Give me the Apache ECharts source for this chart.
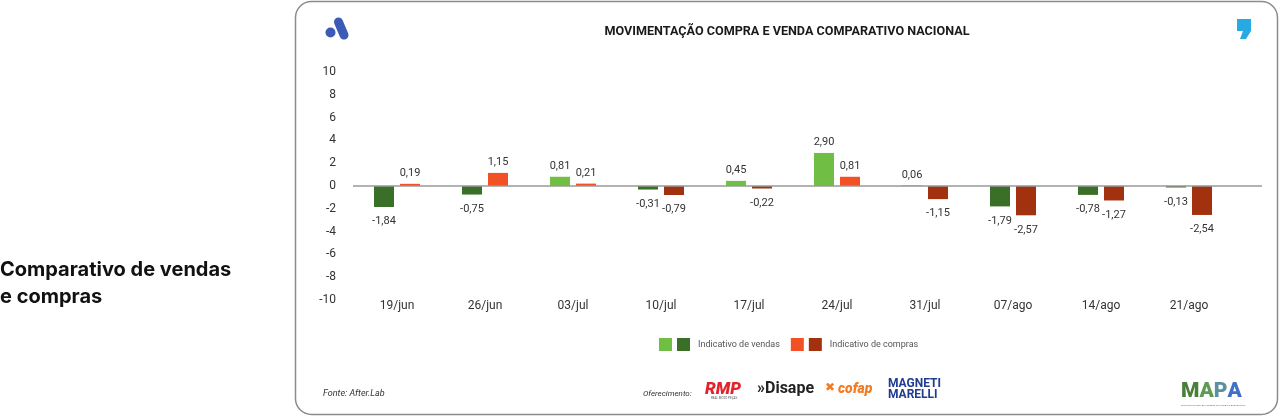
<!DOCTYPE html>
<html>
<head>
<meta charset="utf-8">
<script src="https://cdn.jsdelivr.net/npm/echarts@6/dist/echarts.min.js"></script>
<style>
  html, body { margin: 0; padding: 0; background: #ffffff; }
  #chart { width: 1280px; height: 417px; }
</style>
</head>
<body>
<div id="chart"></div>
<script>
// ---- Data ----
const categories = ['19/jun', '26/jun', '03/jul', '10/jul', '17/jul', '24/jul', '31/jul', '07/ago', '14/ago', '21/ago'];
const vendas  = [-1.84, -0.75, 0.81, -0.31, 0.45, 2.90, 0.06, -1.79, -0.78, -0.13];
const compras = [0.19, 1.15, 0.21, -0.79, -0.22, 0.81, -1.15, -2.57, -1.27, -2.54];
const yTicks = { min: -10, max: 10, interval: 2 };
const seriesNames = ['Indicativo de vendas', 'Indicativo de compras'];

// ---- Styles ----
const C = {
  vendasPos: '#70bf44', vendasNeg: '#3a6f27',
  comprasPos: '#f15124', comprasNeg: '#a2310f'
};
const FONT = 'Roboto, "Noto Sans", sans-serif';
const fmt = v => v.toFixed(2).replace('.', ',');

function buildData(arr, neg) {
  return arr.map(v => {
    const d = { value: v };
    if (v < 0) {
      d.itemStyle = { color: neg };
      d.label = { position: 'bottom', distance: 9 };
    }
    return d;
  });
}

const chart = echarts.init(document.getElementById('chart'), null, { renderer: 'canvas' });

const labelCfg = {
  show: true, position: 'top', distance: 5,
  color: '#333', fontSize: 11, fontFamily: FONT,
  formatter: p => fmt(p.value)
};

const option = {
  backgroundColor: '#ffffff',
  animation: false,
  legend: {
    data: seriesNames,
    left: 659, top: 338, padding: 0,
    icon: 'rect', itemWidth: 13, itemHeight: 13, itemGap: 11,
    textStyle: {
      fontFamily: FONT, fontSize: 9, color: '#555',
      rich: {
        dv: { width: 13, height: 13, backgroundColor: C.vendasNeg },
        dc: { width: 13, height: 13, backgroundColor: C.comprasNeg },
        t: { fontFamily: FONT, fontSize: 9, color: '#555', padding: [0, 0, 0, 8] }
      }
    },
    formatter: name => (name === seriesNames[0] ? '{dv|}' : '{dc|}') + '{t|' + name + '}'
  },
  grid: { left: 353, top: 72, width: 880, height: 228, containLabel: false },
  xAxis: {
    type: 'category',
    data: categories,
    axisLine: { show: false, onZero: false },
    axisTick: { show: false },
    axisLabel: { color: '#333', fontSize: 12, fontFamily: FONT, margin: 0 },
    splitLine: { show: false }
  },
  yAxis: {
    type: 'value',
    min: yTicks.min, max: yTicks.max, interval: yTicks.interval,
    axisLine: { show: false },
    axisTick: { show: false },
    splitLine: { show: false },
    axisLabel: { color: '#333', fontSize: 12, fontFamily: FONT, margin: 17 }
  },
  series: [
    {
      name: seriesNames[0], type: 'bar',
      color: C.vendasPos,
      barWidth: 20, barGap: '30%',
      data: buildData(vendas, C.vendasNeg),
      label: labelCfg
    },
    {
      name: seriesNames[1], type: 'bar',
      color: C.comprasPos,
      barWidth: 20, barGap: '30%',
      data: buildData(compras, C.comprasNeg),
      label: labelCfg
    }
  ]
};

chart.setOption(option);

// Zero line & decorations
const y0 = chart.convertToPixel({ yAxisIndex: 0 }, 0);

chart.setOption({
  graphic: [
    // outer rounded box
    { type: 'rect', z: 0, shape: { x: 295.5, y: 1.5, width: 982, height: 413, r: 16 },
      style: { fill: 'none', stroke: '#8c8c8c', lineWidth: 1.5 } },
    // zero line
    { type: 'line', z: 10, shape: { x1: 353, y1: y0, x2: 1262, y2: y0 },
      style: { stroke: '#999999', lineWidth: 1.5 } },
    // title
    { type: 'text', x: 787, y: 25, style: {
        text: 'MOVIMENTAÇÃO COMPRA E VENDA COMPARATIVO NACIONAL', fill: '#1a1a1a',
        font: 'bold 12.6px Roboto, sans-serif', align: 'center', verticalAlign: 'top' } },
    // left heading
    { type: 'text', left: 0, top: 256, style: {
        text: 'Comparativo de vendas\ne compras', fill: '#111',
        font: 'bold 20px Inter, "Noto Sans", sans-serif', lineHeight: 27 } },
    // A logo
    { type: 'circle', shape: { cx: 330.5, cy: 32.5, r: 5 }, style: { fill: '#3b5bb4' } },
    { type: 'line', shape: { x1: 338.5, y1: 22, x2: 344, y2: 35 },
      style: { stroke: '#3b5bb4', lineWidth: 9, lineCap: 'round' } },
    // comma logo
    { type: 'polygon', shape: { points: [[1237, 19], [1251, 19], [1251, 31], [1246, 39], [1240, 39], [1243, 31], [1237, 31]] },
      style: { fill: '#27a9e1' } },
    // source
    { type: 'text', left: 323, top: 389, style: {
        text: 'Fonte: After.Lab', fill: '#333', font: 'italic 9px Roboto, sans-serif' } },
    { type: 'text', left: 643, top: 390, style: {
        text: 'Oferecimento:', fill: '#333', font: 'italic 8px Roboto, sans-serif' } },
    // RMP
    { type: 'text', left: 705, top: 381, style: {
        text: 'RMP', fill: '#e3232b', font: 'italic 900 17px Roboto, sans-serif' } },
    { type: 'text', left: 711, top: 397, style: {
        text: 'REAL MOTO PEÇAS', fill: '#555', font: '3px Roboto, sans-serif' } },
    // Disape
    { type: 'text', left: 757, top: 381, style: {
        text: '»Disape', fill: '#222', font: 'bold 16px Roboto, sans-serif' } },
    // cofap
    { type: 'text', left: 825, top: 382, style: {
        text: '✖', fill: '#f47b20', font: 'bold 12px "DejaVu Sans", sans-serif' } },
    { type: 'text', left: 838, top: 382, style: {
        text: 'cofap', fill: '#f47b20', font: 'italic 900 14px Roboto, sans-serif' } },
    // Magneti Marelli
    { type: 'text', left: 888, top: 378, style: {
        text: 'MAGNETI\nMARELLI', fill: '#1f3c91', font: 'bold 12px "Liberation Sans Narrow", Roboto, sans-serif', lineHeight: 11 } },
    // MAPA (per-letter colours)
    { type: 'text', left: 1181, top: 381, style: {
        text: '{a|M}{b|A}{c|P}{d|A}',
        rich: {
          a: { fill: '#4a7f3a', font: '900 21px Roboto, sans-serif' },
          b: { fill: '#5f9a52', font: '900 21px Roboto, sans-serif' },
          c: { fill: '#5c90a0', font: '900 21px Roboto, sans-serif' },
          d: { fill: '#3f72c6', font: '900 21px Roboto, sans-serif' }
        } } },
    { type: 'text', left: 1181, top: 404, style: {
        text: 'MOVIMENTO DAS ATIVIDADES EM PEÇAS E ACESSÓRIOS', fill: '#777', font: '2.5px Roboto, sans-serif' } }
  ]
});
</script>
</body>
</html>
